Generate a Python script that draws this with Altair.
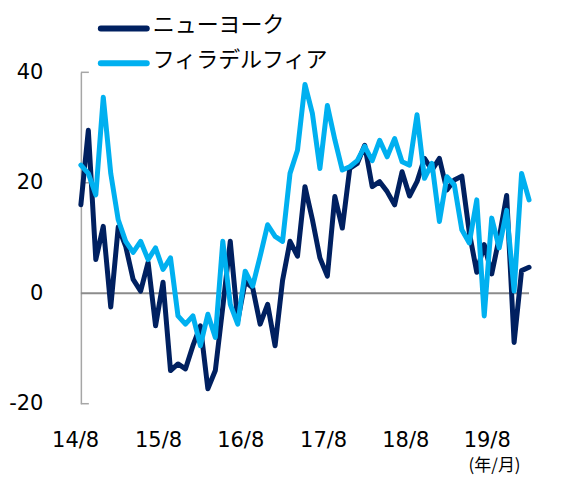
import altair as alt
import pandas as pd

# Monthly index, 14/8 .. 19/8 (61 months)
ny_name = "ニューヨーク"
ph_name = "フィラデルフィア"
series_names = [ny_name, ph_name]

ny = [16, 29.5, 6.1, 12.1, -2.5, 12, 8.5, 2.5, 0.4, 5.6,
      -5.9, 2.0, -14, -12.8, -13.7, -9.5, -5.9, -17.3, -14, -2.5,
      9.4, -5.0, 2.1, 1.0, -5.6, -2, -9.5, 2.3, 9.4, 6.7,
      19.3, 13.3, 6.4, 3.1, 17.5, 11.8, 22.6, 23.5, 26.8, 19.3,
      20.2, 18.4, 16, 22, 17.6, 20.2, 24.4, 22.3, 24.4, 18.7,
      20.5, 21.2, 11, 3.8, 8.8, 3.5, 10, 17.7, -8.9, 4.1, 4.7]

ph = [23.2, 21.7, 17.8, 35.5, 21.7, 13.3, 9.4, 7.4, 9.4, 6.1,
      8.2, 4.3, 6.4, -4.1, -5.6, -4.1, -9.5, -3.8, -8.0, 9.4,
      -2.0, -5.6, 4.0, 1.3, 6.7, 12.4, 10.3, 9.4, 21.7, 25.9,
      37.8, 32.5, 22.6, 34.0, 27.8, 22.3, 22.9, 24.0, 26.6, 24.0,
      27.7, 24.7, 28, 23.8, 23.2, 32.3, 20.8, 23.5, 13.0, 21.1,
      19.6, 11.5, 9.1, 16.9, -4.1, 13.6, 8.2, 15, 0.4, 21.7, 16.9]

x_labels = ["14/8", "15/8", "16/8", "17/8", "18/8", "19/8"]
x_label_pos = [-0.7, 10.4, 21.4, 32.5, 43.5, 54.4]
y_ticks = [-20, 0, 20, 40]

NAVY = "#002060"
LIGHT = "#00B0F0"
NUM_FONT = "DejaVu Sans"
JP_FONT = "Noto Sans CJK JP"

W, H = 449, 332

rows = []
for i, v in enumerate(ny):
    rows.append({"idx": i, "series": ny_name, "value": v})
for i, v in enumerate(ph):
    rows.append({"idx": i, "series": ph_name, "value": v})
df = pd.DataFrame(rows)

xscale = alt.Scale(domain=[0, 60], nice=False, zero=False)
yscale = alt.Scale(domain=[-20, 40], nice=False, zero=False)
cscale = alt.Scale(domain=series_names, range=[NAVY, LIGHT])

lines = alt.Chart(df).mark_line(strokeWidth=5, strokeJoin="round", strokeCap="round").encode(
    x=alt.X("idx:Q", scale=xscale,
            axis=alt.Axis(labels=False, ticks=False, domain=False, grid=False,
                          title="(年/月)", titleFont=JP_FONT, titleFontSize=17,
                          titleFontWeight="normal", titleColor="#000",
                          titleAnchor="end", titleAlign="right", titleBaseline="alphabetic",
                          titleX=440, titleY=67)),
    y=alt.Y("value:Q", scale=yscale,
            axis=alt.Axis(values=y_ticks, ticks=False, grid=False, domainColor="#a6a6a6",
                          domainWidth=1.5, labelPadding=38, labelFont=NUM_FONT,
                          labelFontSize=21, labelColor="#000", labelExpr="datum.value",
                          title=None)),
    color=alt.Color("series:N", sort=series_names, scale=cscale, legend=None),
)

# legend built from the series names (pixel layout above the plot)
leg_df = pd.DataFrame({"series": series_names, "row": [0, 1]})
leg_layers = []
for r in range(len(series_names)):
    base = alt.Chart(leg_df).transform_filter(alt.datum.row == r)
    leg_layers.append(base.mark_rule(strokeWidth=6, strokeCap="round").encode(
        x=alt.value(20), x2=alt.value(66),
        y=alt.value(-44 + 35 * r),
        color=alt.Color("series:N", sort=series_names, scale=cscale, legend=None),
    ))
    leg_layers.append(base.mark_text(font=JP_FONT, fontSize=22, align="left",
                                     baseline="middle", color="#000").encode(
        x=alt.value(72),
        y=alt.value(-47 + 35 * r),
        text="series:N",
    ))

zero_rule = alt.Chart(pd.DataFrame({"v": [0]})).mark_rule(color="#8c8c8c", strokeWidth=2).encode(
    y=alt.Y("v:Q", scale=yscale)
)

inner_ticks = alt.Chart(pd.DataFrame({"v": [-20, 20, 40]})).mark_rule(
    color="#a6a6a6", strokeWidth=1.5).encode(
    y=alt.Y("v:Q", scale=yscale),
    x=alt.value(0), x2=alt.value(8)
)

xlab_df = pd.DataFrame({"pos": x_label_pos, "lab": x_labels})
xlabs = alt.Chart(xlab_df).mark_text(font=NUM_FONT, fontSize=21, baseline="top",
                                    align="center", color="#000").encode(
    x=alt.X("pos:Q", scale=xscale),
    y=alt.value(H + 26),
    text="lab:N",
)

chart = alt.layer(zero_rule, inner_ticks, lines, xlabs, *leg_layers).properties(
    width=W, height=H,
    autosize=alt.AutoSizeParams(type="none"),
    padding={"left": 73, "top": 64, "right": 30, "bottom": 72},
).configure_view(stroke=None)

chart.save("out.html", embed_options={"renderer": "svg", "actions": False})
